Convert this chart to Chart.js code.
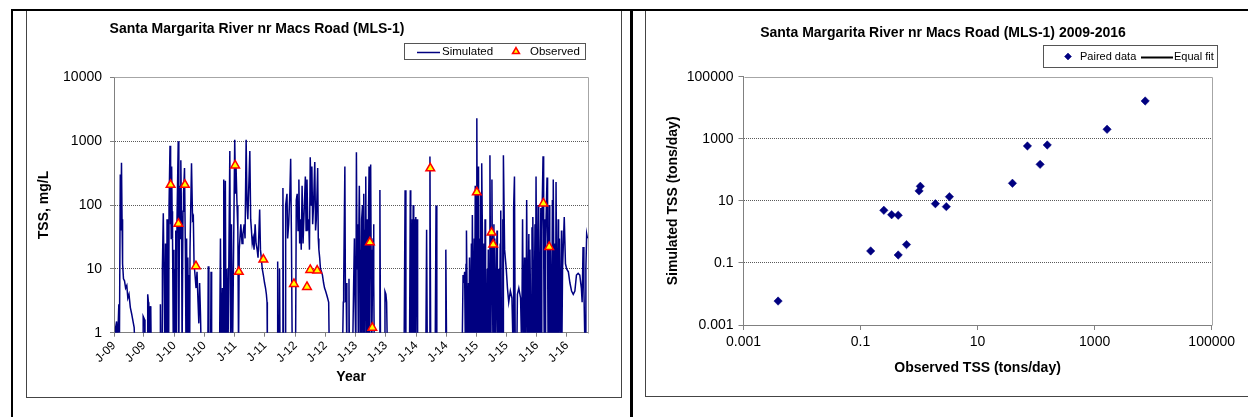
<!DOCTYPE html>
<html>
<head>
<meta charset="utf-8">
<script src="https://cdn.jsdelivr.net/npm/chart.js@4.4.1/dist/chart.umd.min.js"></script>
<style>
  html, body { margin: 0; padding: 0; background: #fff; width: 1248px; height: 417px; overflow: hidden; }
  body { position: relative; }
  .frame { position: absolute; box-sizing: border-box; border: 1px solid #444; }
  .rule { position: absolute; background: #000; }
  canvas { position: absolute; }
</style>
</head>
<body>
<div class="frame" style="left:26px;top:10px;width:596px;height:388px"></div>
<div class="frame" style="left:645px;top:10px;width:700px;height:387px"></div>
<div class="rule" style="left:11px;top:9px;width:1237px;height:2px"></div>
<div class="rule" style="left:11px;top:9px;width:2px;height:408px"></div>
<div class="rule" style="left:630px;top:9px;width:3px;height:408px"></div>
<canvas id="tssChart" width="594" height="385" style="left:27px;top:11px"></canvas>
<canvas id="loadChart" width="602" height="384" style="left:646px;top:11px"></canvas>
<script>
// ---- Daily simulated TSS (mg/L) as [decimal year, value]; 0.5 marks dry days below the axis floor ----
const simSeries = [
  // 2009
  [2009.017, 0.5], [2009.027, 1.2], [2009.043, 1.5], [2009.055, 0.5], [2009.080, 2.8], [2009.091, 1.0],
  [2009.104, 300], [2009.113, 40], [2009.124, 460], [2009.133, 60], [2009.142, 12], [2009.157, 7],
  [2009.174, 6.5], [2009.192, 5], [2009.212, 5.5], [2009.229, 3.5], [2009.248, 4], [2009.270, 2.5],
  [2009.291, 2], [2009.315, 1.5], [2009.334, 1.2], [2009.348, 0.5], [2009.480, 0.5], [2009.483, 1.8],
  [2009.507, 1.6], [2009.513, 0.5], [2009.551, 0.5], [2009.558, 4], [2009.570, 3], [2009.576, 0.5],
  [2009.593, 0.5], [2009.599, 2.6], [2009.609, 2.2], [2009.616, 0.5],
  // 2009-10 wet season
  [2009.762, 0.5], [2009.768, 2.8], [2009.778, 0.5], [2009.795, 0.5], [2009.801, 10.6], [2009.816, 74],
  [2009.828, 8], [2009.844, 0.5], [2009.852, 25], [2009.860, 0.5], [2009.870, 0.5], [2009.878, 60],
  [2009.890, 0.5], [2009.900, 40], [2009.905, 0.5], [2009.911, 100], [2009.927, 850], [2009.934, 50],
  [2009.940, 200], [2009.947, 30], [2009.954, 400], [2009.962, 80], [2009.969, 30], [2009.982, 0.5],
  [2009.992, 20], [2009.997, 0.5], [2010.002, 10], [2010.010, 0.5], [2010.018, 0.5], [2010.026, 40],
  [2010.034, 0.5], [2010.043, 60], [2010.063, 1000], [2010.073, 0.5], [2010.086, 200], [2010.096, 30],
  [2010.106, 500], [2010.119, 40], [2010.127, 0.5], [2010.134, 0.5], [2010.142, 80], [2010.151, 150],
  [2010.167, 380], [2010.181, 20], [2010.192, 0.5], [2010.199, 12], [2010.205, 30], [2010.213, 0.5],
  [2010.222, 15], [2010.238, 0.5], [2010.248, 8], [2010.253, 0.5], [2010.258, 20], [2010.283, 450],
  [2010.300, 60], [2010.313, 65], [2010.325, 12], [2010.341, 8], [2010.358, 5], [2010.374, 9],
  [2010.391, 3], [2010.404, 1.4], [2010.417, 6], [2010.431, 2], [2010.444, 0.5],
  [2010.553, 0.5], [2010.560, 11], [2010.570, 0.5], [2010.599, 0.5], [2010.606, 9], [2010.616, 0.5],
  // 2010-11 wet season
  [2010.747, 0.5], [2010.762, 30], [2010.775, 0.5], [2010.795, 5], [2010.805, 0.5], [2010.816, 250],
  [2010.830, 0.5], [2010.843, 240], [2010.854, 0.5], [2010.871, 10], [2010.887, 0.5], [2010.917, 700],
  [2010.931, 0.5], [2010.944, 50], [2010.962, 0.5], [2010.998, 1050], [2011.012, 150], [2011.020, 400],
  [2011.036, 100], [2011.050, 40], [2011.061, 0.5], [2011.073, 20], [2011.099, 50], [2011.119, 25],
  [2011.134, 35], [2011.154, 50], [2011.169, 30], [2011.187, 1050], [2011.202, 100], [2011.215, 60],
  [2011.248, 700], [2011.262, 60], [2011.275, 40], [2011.288, 25], [2011.303, 30], [2011.318, 20],
  [2011.336, 50], [2011.351, 25], [2011.369, 20], [2011.384, 15], [2011.411, 85], [2011.424, 20],
  [2011.437, 15], [2011.454, 10], [2011.472, 8], [2011.492, 6], [2011.508, 5], [2011.522, 4],
  [2011.533, 3], [2011.538, 0.5],
  // 2011-12 wet season
  [2011.699, 0.5], [2011.709, 13], [2011.719, 0.5], [2011.732, 0.5], [2011.740, 10], [2011.748, 0.5],
  [2011.790, 0.5], [2011.796, 185], [2011.806, 0.5], [2011.831, 0.5], [2011.841, 100], [2011.863, 150],
  [2011.874, 30], [2011.891, 50], [2011.911, 160], [2011.924, 530], [2011.937, 30], [2011.950, 0.5],
  [2012.005, 0.5], [2012.017, 120], [2012.032, 150], [2012.046, 40], [2012.060, 250], [2012.073, 25],
  [2012.086, 60], [2012.099, 20], [2012.113, 200], [2012.129, 25], [2012.147, 80], [2012.167, 280],
  [2012.179, 40], [2012.194, 250], [2012.209, 40], [2012.222, 60], [2012.235, 20], [2012.248, 560],
  [2012.262, 100], [2012.275, 400], [2012.288, 50], [2012.303, 100], [2012.323, 470], [2012.336, 40],
  [2012.349, 60], [2012.371, 380], [2012.381, 30], [2012.391, 20], [2012.404, 15], [2012.417, 10],
  [2012.434, 9], [2012.450, 8], [2012.469, 6], [2012.485, 5], [2012.502, 4.5], [2012.518, 4],
  [2012.535, 3.5], [2012.553, 3], [2012.563, 0.5],
  // 2012-13 wet season
  [2012.782, 0.5], [2012.795, 3], [2012.801, 5], [2012.821, 400], [2012.831, 3], [2012.841, 6],
  [2012.854, 0.5], [2012.884, 0.5], [2012.889, 7], [2012.895, 0.5], [2012.950, 0.5], [2012.965, 5],
  [2012.979, 30], [2012.990, 3], [2013.003, 0.5], [2013.012, 670], [2013.023, 10], [2013.033, 50],
  [2013.045, 0.5], [2013.052, 35], [2013.060, 200], [2013.073, 20], [2013.080, 0.5], [2013.086, 15],
  [2013.092, 0.5], [2013.099, 60], [2013.113, 100], [2013.120, 8], [2013.126, 0.5], [2013.134, 150],
  [2013.141, 30], [2013.148, 0.5], [2013.154, 0.5], [2013.160, 40], [2013.167, 280], [2013.174, 10],
  [2013.181, 0.5], [2013.188, 60], [2013.194, 20], [2013.200, 0.5], [2013.205, 0.5], [2013.213, 90],
  [2013.222, 400], [2013.229, 0.5], [2013.235, 5], [2013.242, 150], [2013.248, 430], [2013.255, 20],
  [2013.262, 0.5], [2013.270, 0.5], [2013.281, 12], [2013.288, 30], [2013.296, 50], [2013.302, 6],
  [2013.308, 0.5], [2013.392, 0.5], [2013.401, 172], [2013.411, 0.5], [2013.475, 0.5], [2013.485, 4.4],
  [2013.500, 4], [2013.512, 3], [2013.525, 0.5],
  // 2013-14 wet season
  [2013.801, 0.5], [2013.818, 170], [2013.831, 0.5], [2013.891, 0.5], [2013.904, 170], [2013.909, 0.5],
  [2013.914, 30], [2013.919, 0.5], [2013.924, 20], [2013.930, 0.5], [2013.937, 60], [2013.944, 0.5],
  [2013.952, 100], [2013.958, 0.5], [2013.964, 50], [2013.972, 60], [2013.978, 0.5], [2013.983, 40],
  [2013.992, 65], [2013.998, 0.5], [2014.005, 30], [2014.018, 60], [2014.025, 0.5], [2014.040, 0.5],
  [2014.161, 0.5], [2014.174, 41], [2014.185, 0.5], [2014.222, 0.5], [2014.229, 575], [2014.242, 0.5],
  [2014.316, 0.5], [2014.330, 98], [2014.343, 0.5], [2014.479, 0.5], [2014.492, 20], [2014.505, 0.5],
  // 2014-16 wet seasons
  [2014.762, 0.5], [2014.777, 8], [2014.790, 6], [2014.803, 9], [2014.816, 0.5], [2014.826, 12],
  [2014.831, 0.5], [2014.836, 40], [2014.853, 0.5], [2014.868, 6], [2014.874, 0.5], [2014.884, 15],
  [2014.899, 0.5], [2014.915, 25], [2014.921, 0.5], [2014.931, 70], [2014.947, 0.5], [2014.962, 30],
  [2014.968, 0.5], [2014.979, 200], [2014.992, 0.5], [2015.005, 2275], [2015.013, 20], [2015.020, 100],
  [2015.027, 0.5], [2015.033, 400], [2015.043, 0.5], [2015.053, 30], [2015.060, 0.5], [2015.068, 150],
  [2015.076, 0.5], [2015.086, 450], [2015.097, 40], [2015.108, 0.5], [2015.124, 25], [2015.132, 0.5],
  [2015.141, 60], [2015.150, 5], [2015.162, 0.5], [2015.178, 10], [2015.185, 0.5], [2015.195, 20],
  [2015.209, 0.5], [2015.222, 600], [2015.230, 15], [2015.238, 0.5], [2015.247, 30], [2015.255, 250],
  [2015.263, 10], [2015.272, 0.5], [2015.288, 50], [2015.295, 0.5], [2015.303, 30], [2015.311, 0.5],
  [2015.320, 0.5], [2015.339, 40], [2015.345, 0.5], [2015.358, 10], [2015.367, 0.5], [2015.378, 0.5],
  [2015.392, 25], [2015.398, 0.5], [2015.404, 82], [2015.414, 0.5], [2015.424, 0.5], [2015.435, 60],
  [2015.440, 0.5], [2015.445, 600], [2015.465, 20], [2015.492, 10], [2015.512, 5], [2015.533, 3],
  [2015.560, 4.5], [2015.586, 3.5], [2015.606, 0.5], [2015.614, 90], [2015.628, 280], [2015.641, 0.5],
  [2015.667, 0.5], [2015.677, 4], [2015.700, 5], [2015.729, 3.5], [2015.748, 0.5], [2015.762, 60],
  [2015.778, 0.5], [2015.794, 15], [2015.800, 0.5], [2015.818, 0.5], [2015.830, 120], [2015.848, 0.5],
  [2015.866, 35], [2015.872, 0.5], [2015.884, 20], [2015.904, 0.5], [2015.918, 45], [2015.924, 0.5],
  [2015.932, 65], [2015.950, 0.5], [2015.968, 50], [2015.975, 0.5], [2015.985, 280], [2016.003, 0.5],
  [2016.018, 100], [2016.025, 0.5], [2016.033, 70], [2016.050, 0.5], [2016.064, 90], [2016.070, 0.5],
  [2016.080, 40], [2016.101, 580], [2016.111, 25], [2016.121, 0.5], [2016.134, 60], [2016.140, 0.5],
  [2016.147, 30], [2016.167, 270], [2016.176, 20], [2016.185, 0.5], [2016.204, 100], [2016.212, 0.5],
  [2016.222, 20], [2016.242, 0.5], [2016.256, 120], [2016.263, 0.5], [2016.270, 250], [2016.288, 0.5],
  [2016.302, 25], [2016.308, 0.5], [2016.316, 230], [2016.334, 0.5], [2016.352, 60], [2016.358, 0.5],
  [2016.371, 30], [2016.389, 0.5], [2016.406, 40], [2016.412, 0.5], [2016.424, 10], [2016.452, 65],
  [2016.472, 12], [2016.492, 10], [2016.520, 9], [2016.546, 6], [2016.573, 4.5], [2016.601, 4],
  [2016.628, 4.5], [2016.654, 8], [2016.682, 8.5], [2016.709, 8], [2016.735, 5], [2016.748, 3],
  [2016.763, 22], [2016.777, 5], [2016.796, 0.5], [2016.810, 10], [2016.823, 35], [2016.836, 30]
];
const simYear = simSeries.map(p => p[0]);
const simTSS = simSeries.map(p => p[1]);

// ---- Observed TSS grab samples (mg/L) ----
const obsYear = [2009.937, 2010.066, 2010.174, 2010.356, 2011.005, 2011.066, 2011.472, 2011.978, 2012.194, 2012.248,
                 2012.363, 2013.235, 2013.275, 2014.235, 2015.005, 2015.249, 2015.276, 2016.107, 2016.202];
const obsTSS  = [207, 51, 207, 11, 416, 9, 14, 5.8, 5.2, 9.6,
                 9.4, 26, 1.2, 376, 158, 37, 24, 106, 22];

// ---- Axis ticks for the time series ----
const yearTicks = [2009, 2009.496, 2010, 2010.496, 2011, 2011.496, 2012, 2012.497,
                   2013, 2013.496, 2014, 2014.496, 2015, 2015.496, 2016, 2016.497];
const yearTickLabels = ['J-09', 'J-09', 'J-10', 'J-10', 'J-11', 'J-11', 'J-12', 'J-12',
                        'J-13', 'J-13', 'J-14', 'J-14', 'J-15', 'J-15', 'J-16', 'J-16'];
const tssTicks = [1, 10, 100, 1000, 10000];
const tssTickLabels = ['1', '10', '100', '1000', '10000'];

// ---- Paired daily loads (tons/day) ----
const pairedObserved  = [0.0039, 0.149, 0.25, 0.34, 0.44, 0.44, 0.61, 1.0, 1.05, 1.9, 2.92, 3.3, 39.4, 71, 117, 155, 1630, 7300];
const pairedSimulated = [0.0059, 0.243, 4.96, 3.58, 3.44, 0.18, 0.39, 20.9, 29.4, 8.1, 6.5, 13.6, 36.8, 585, 150, 630, 2018, 16500];
const loadTicks = [0.001, 0.1, 10, 1000, 100000];
const loadTickLabels = ['0.001', '0.1', '10', '1000', '100000'];

const FONT = '"Liberation Sans", Arial, Helvetica, sans-serif';
Chart.defaults.font.family = FONT;
Chart.defaults.color = '#000';

// Plot frame (top/right edges), chart heading and a boxed legend in the spreadsheet style
const chromePlugin = {
  id: 'chrome',
  beforeDatasetsDraw(chart, args, o) {
    const { ctx, chartArea: a } = chart;
    const l = Math.round(a.left) + 0.5, t = Math.round(a.top) + 0.5;
    const r = Math.round(a.right) + 0.5, b = Math.round(a.bottom) + 0.5;
    ctx.save();
    ctx.strokeStyle = o.frameColor;
    ctx.lineWidth = 1;
    ctx.beginPath();
    ctx.moveTo(l, t); ctx.lineTo(r, t); ctx.lineTo(r, b);
    ctx.stroke();
    ctx.restore();
  },
  afterDraw(chart, args, o) {
    const ctx = chart.ctx;
    ctx.save();
    ctx.fillStyle = '#000';
    ctx.font = 'bold ' + o.titleSize + 'px ' + FONT;
    ctx.textAlign = 'center';
    ctx.textBaseline = 'middle';
    ctx.fillText(o.title, o.titleX, o.titleY);

    const L = o.legend;
    ctx.fillStyle = '#fff';
    ctx.fillRect(L.x, L.y, L.w, L.h);
    ctx.strokeStyle = '#555';
    ctx.lineWidth = 1;
    ctx.strokeRect(L.x + 0.5, L.y + 0.5, L.w - 1, L.h - 1);
    const cy = L.y + L.h / 2;
    ctx.font = L.size + 'px ' + FONT;
    ctx.textAlign = 'left';
    chart.data.datasets.forEach((ds, i) => {
      const it = L.items[i];
      if (it.sample === 'line') {
        ctx.strokeStyle = ds.borderColor;
        ctx.lineWidth = it.width;
        ctx.beginPath();
        ctx.moveTo(it.x0, Math.round(cy) + 0.5);
        ctx.lineTo(it.x1, Math.round(cy) + 0.5);
        ctx.stroke();
      } else {
        ctx.fillStyle = ds.pointBackgroundColor;
        ctx.strokeStyle = ds.pointBorderColor;
        ctx.lineWidth = ds.pointBorderWidth;
        Chart.helpers.drawPoint(ctx, { pointStyle: ds.pointStyle, radius: it.radius, rotation: 0, borderWidth: ds.pointBorderWidth }, it.x, cy);
      }
      ctx.fillStyle = '#000';
      ctx.fillText(ds.label, it.textX, cy + 0.5);
    });
    ctx.restore();
  }
};

const axisTitleFont = { size: 14, weight: 'bold' };
const tickFont = { size: 14 };
const gridGray = '#5a5a5a';

// ---- Left: TSS time series ----
new Chart(document.getElementById('tssChart'), {
  type: 'line',
  data: {
    datasets: [
      {
        label: 'Simulated',
        data: simYear.map((x, i) => ({ x, y: simTSS[i] })),
        borderColor: '#000080',
        borderWidth: 1.5,
        pointRadius: 0,
        tension: 0,
        fill: false,
        clip: 0,
        order: 1
      },
      {
        label: 'Observed',
        data: obsYear.map((x, i) => ({ x, y: obsTSS[i] })),
        showLine: false,
        pointStyle: 'triangle',
        pointRadius: 5,
        pointBackgroundColor: '#ffff00',
        pointBorderColor: '#ff0000',
        pointBorderWidth: 1.5,
        clip: false,
        order: 0
      }
    ]
  },
  options: {
    responsive: false,
    animation: false,
    devicePixelRatio: 1,
    events: [],
    layout: { padding: { left: 8.6, top: 66.3, right: 32.7, bottom: 10.9 } },
    plugins: {
      legend: { display: false },
      title: { display: false },
      tooltip: { enabled: false },
      chrome: {
        frameColor: '#a6a6a6',
        title: 'Santa Margarita River nr Macs Road (MLS-1)',
        titleSize: 14, titleX: 230, titleY: 18,
        legend: {
          x: 377, y: 32, w: 182, h: 17, size: 11.5,
          items: [
            { sample: 'line', x0: 390, x1: 413, width: 1.5, textX: 415 },
            { sample: 'marker', x: 489, radius: 4, textX: 503 }
          ]
        }
      }
    },
    scales: {
      x: {
        type: 'linear',
        min: 2009,
        max: 2016.85,
        afterBuildTicks: s => { s.ticks = yearTicks.map(v => ({ value: v })); },
        afterFit: s => { s.height = 52.4; },
        ticks: {
          autoSkip: false, minRotation: 45, maxRotation: 45, padding: 2,
          font: { size: 12 }, color: '#000',
          callback: (v, i) => yearTickLabels[i]
        },
        grid: { drawOnChartArea: false, drawTicks: true, tickLength: 4, tickColor: '#808080' },
        border: { display: true, color: '#808080', width: 1 },
        title: { display: true, text: 'Year', font: axisTitleFont, color: '#000', padding: 0 }
      },
      y: {
        type: 'logarithmic',
        min: 1,
        max: 10000,
        afterBuildTicks: s => { s.ticks = tssTicks.map(v => ({ value: v })); },
        afterFit: s => { s.width = 78.4; },
        ticks: { autoSkip: false, padding: 8, font: tickFont, color: '#000', callback: (v, i) => tssTickLabels[i] },
        grid: {
          color: c => (c.index === 0 || c.index === tssTicks.length - 1) ? 'rgba(0,0,0,0)' : gridGray,
          tickLength: 4, tickColor: '#808080', tickBorderDash: []
        },
        border: { display: true, color: '#808080', width: 1, dash: [1, 1] },
        title: { display: true, text: 'TSS, mg/L', font: axisTitleFont, color: '#000', padding: 0 }
      }
    }
  },
  plugins: [chromePlugin]
});

// ---- Right: simulated vs observed daily load ----
new Chart(document.getElementById('loadChart'), {
  type: 'scatter',
  data: {
    datasets: [
      {
        label: 'Paired data',
        data: pairedObserved.map((x, i) => ({ x, y: pairedSimulated[i] })),
        pointStyle: 'rectRot',
        pointRadius: 4.2,
        pointBackgroundColor: '#000080',
        pointBorderColor: '#000080',
        pointBorderWidth: 0.5,
        clip: false
      },
      {
        type: 'line',
        label: 'Equal fit',
        data: [],
        borderColor: '#000',
        borderWidth: 2,
        pointRadius: 0,
        showLine: true
      }
    ]
  },
  options: {
    responsive: false,
    animation: false,
    devicePixelRatio: 1,
    events: [],
    layout: { padding: { left: 18.6, top: 65.7, right: 36.3, bottom: 18.3 } },
    plugins: {
      legend: { display: false },
      title: { display: false },
      tooltip: { enabled: false },
      chrome: {
        frameColor: '#a6a6a6',
        title: 'Santa Margarita River nr Macs Road (MLS-1) 2009-2016',
        titleSize: 14, titleX: 297, titleY: 22,
        legend: {
          x: 397, y: 34, w: 175, h: 23, size: 11,
          items: [
            { sample: 'marker', x: 422, radius: 3.5, textX: 434 },
            { sample: 'line', x0: 495, x1: 527, width: 2, textX: 528 }
          ]
        }
      }
    },
    scales: {
      x: {
        type: 'logarithmic',
        min: 0.001,
        max: 100000,
        afterBuildTicks: s => { s.ticks = loadTicks.map(v => ({ value: v })); },
        afterFit: s => { s.height = 51.7; },
        ticks: { autoSkip: false, minRotation: 0, maxRotation: 0, padding: 4, font: tickFont, color: '#000', callback: (v, i) => loadTickLabels[i] },
        grid: { drawOnChartArea: false, drawTicks: true, tickLength: 5, tickColor: '#808080' },
        border: { display: true, color: '#808080', width: 1 },
        title: { display: true, text: 'Observed TSS (tons/day)', font: axisTitleFont, color: '#000', padding: 0 }
      },
      y: {
        type: 'logarithmic',
        min: 0.001,
        max: 100000,
        afterBuildTicks: s => { s.ticks = loadTicks.map(v => ({ value: v })); },
        afterFit: s => { s.width = 78.9; },
        ticks: { autoSkip: false, padding: 5, font: tickFont, color: '#000', callback: (v, i) => loadTickLabels[i] },
        grid: {
          color: c => (c.index === 0 || c.index === loadTicks.length - 1) ? 'rgba(0,0,0,0)' : gridGray,
          tickLength: 5, tickColor: '#808080', tickBorderDash: []
        },
        border: { display: true, color: '#808080', width: 1, dash: [1, 1] },
        title: { display: true, text: 'Simulated TSS (tons/day)', font: axisTitleFont, color: '#000', padding: 0 }
      }
    }
  },
  plugins: [chromePlugin]
});
</script>
</body>
</html>
